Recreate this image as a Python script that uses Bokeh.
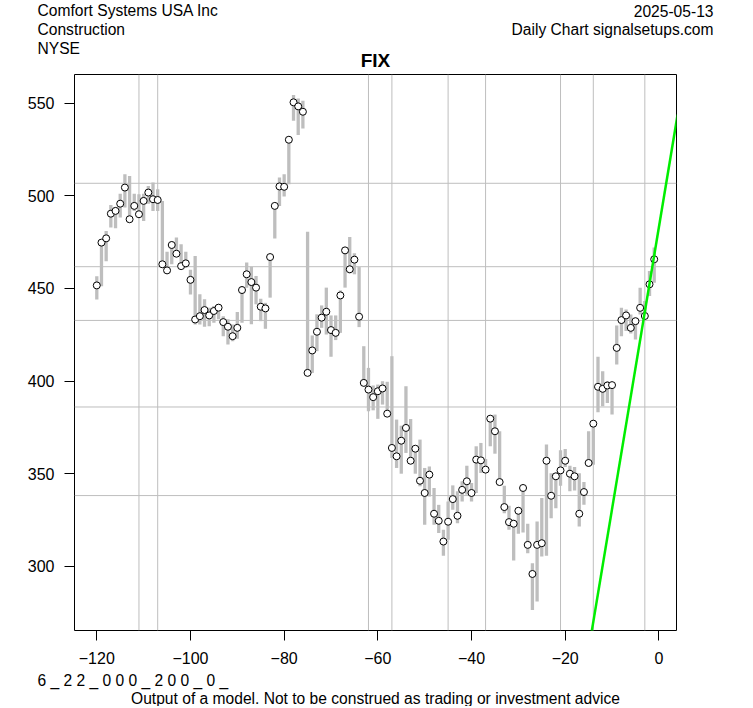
from bokeh.plotting import figure
from bokeh.models import Range1d, FixedTicker, Span
from bokeh.core.properties import value
from bokeh.embed import file_html
from bokeh.resources import INLINE

# ---- data ----
days = list(range(-120, 0))
close = [451.6, 474.7, 477.0, 490.3, 491.8, 495.7, 504.4, 487.3, 494.5, 490.0,
         497.2, 501.7, 498.1, 497.7, 463.0, 459.7, 473.4, 468.7, 462.0, 463.5,
         454.6, 433.2, 435.0, 438.3, 435.4, 437.8, 439.6, 431.8, 429.3, 424.2,
         428.7, 449.1, 457.6, 453.4, 450.4, 440.1, 439.2, 466.9, 494.5, 505.0,
         504.8, 530.2, 550.4, 548.2, 545.3, 404.4, 416.5, 426.6, 434.2, 437.4,
         427.5, 426.0, 446.2, 470.5, 460.3, 465.5, 434.7, 399.0, 395.4, 391.3,
         394.5, 396.0, 382.4, 363.9, 359.4, 367.8, 374.7, 357.0, 363.5, 346.2,
         339.6, 349.5, 328.4, 324.6, 313.4, 324.1, 336.3, 327.3, 341.3, 345.9,
         339.6, 357.6, 357.2, 352.2, 379.7, 372.9, 345.5, 332.0, 323.9, 323.0,
         330.0, 342.3, 311.6, 295.9, 311.6, 312.5, 357.0, 338.1, 348.6, 351.8,
         357.0, 350.0, 348.6, 328.4, 340.1, 355.8, 377.0, 396.9, 395.8, 397.6,
         397.8, 417.9, 432.9, 435.4, 428.7, 432.3, 439.5, 435.1, 452.2, 465.7]
high = [456.6, 475.9, 481.0, 495.0, 493.9, 501.1, 511.6, 510.7, 501.1, 500.8,
        501.1, 505.3, 507.1, 503.5, 497.2, 469.8, 475.6, 477.4, 473.8, 469.8,
        460.0, 467.5, 446.8, 444.1, 439.6, 440.5, 441.4, 435.0, 433.3, 430.5,
        437.2, 451.3, 463.9, 461.7, 456.7, 444.4, 442.2, 468.4, 495.4, 509.8,
        511.6, 530.6, 554.3, 552.5, 551.3, 480.5, 424.6, 436.0, 440.8, 450.4,
        435.4, 435.4, 448.9, 471.0, 477.7, 468.9, 461.5, 418.8, 407.1, 397.6,
        398.1, 399.9, 399.6, 413.4, 379.2, 375.9, 397.2, 379.5, 364.5, 368.4,
        353.1, 353.9, 342.3, 333.2, 319.7, 335.0, 343.7, 340.5, 345.9, 354.3,
        345.0, 364.8, 366.6, 357.9, 381.0, 381.9, 372.9, 343.5, 332.7, 325.1,
        332.0, 343.2, 323.0, 301.7, 324.2, 336.9, 365.7, 350.3, 350.3, 362.6,
        363.3, 354.3, 353.6, 350.3, 345.5, 372.9, 378.8, 413.1, 405.3, 399.9,
        398.7, 430.0, 439.5, 438.6, 435.9, 434.2, 450.4, 443.2, 459.4, 472.0]
low = [444.0, 451.2, 464.7, 482.8, 482.4, 488.2, 493.6, 486.4, 491.8, 488.2,
       486.4, 495.7, 491.8, 491.8, 461.1, 459.3, 463.0, 466.9, 461.1, 461.1,
       446.7, 430.5, 430.5, 429.3, 429.6, 431.5, 433.3, 424.2, 419.7, 421.5,
       422.8, 431.4, 450.4, 430.6, 441.4, 432.3, 428.2, 445.0, 476.9, 494.5,
       499.6, 506.2, 540.5, 532.7, 536.3, 404.0, 404.4, 416.1, 428.7, 425.1,
       413.1, 422.1, 426.0, 450.4, 458.1, 457.6, 429.1, 398.5, 383.7, 384.2,
       379.6, 387.3, 381.0, 358.5, 353.1, 350.0, 361.2, 356.7, 350.0, 343.2,
       322.4, 337.7, 322.4, 318.0, 305.7, 314.3, 330.5, 323.3, 335.0, 338.7,
       335.0, 339.6, 350.4, 350.4, 364.8, 360.8, 345.0, 328.7, 319.7, 303.2,
       317.6, 318.3, 307.1, 276.5, 281.0, 305.3, 305.7, 326.0, 331.4, 343.5,
       353.6, 340.5, 341.0, 321.5, 333.2, 353.6, 354.9, 383.2, 386.4, 388.2,
       381.9, 408.9, 424.2, 427.0, 425.7, 422.4, 435.9, 434.2, 445.9, 453.1]
vgrid_x = [-111, -107, -62, -57, -45, -37, -21, -14, -3]
hgrid_y = [506.7, 461.7, 432.7, 386.0, 338.2]
trend_x = [-15, 4]
trend_y = [254.9, 543.8]
x_ticks = [-120, -100, -80, -60, -40, -20, 0]
y_ticks = [300, 350, 400, 450, 500, 550]

header_left = ["Comfort Systems USA Inc", "Construction", "NYSE"]
header_right = ["2025-05-13", "Daily Chart signalsetups.com"]
chart_title = "FIX"
footer_code = "6 _ 2 2 _ 0 0 0 _ 2 0 0 _ 0 _"
footer_note = "Output of a model. Not to be construed as trading or investment advice"

FONT = "Liberation Sans"
GRAY = "#BEBEBE"
W = 745
OFF = 1          # page offset of the layout
HEAD_H = 74      # header strip: page rows 1..75
FOOT_H = 36      # footer strip


def strip(h):
    f = figure(width=W, height=h, x_range=Range1d(0, W), y_range=Range1d(h, 0),
               output_backend="svg", toolbar_location=None,
               x_axis_type=None, y_axis_type=None,
               min_border=0, min_border_left=0, min_border_right=0,
               min_border_top=0, min_border_bottom=0)
    f.outline_line_color = None
    f.xgrid.visible = False
    f.ygrid.visible = False
    f.background_fill_color = "white"
    f.border_fill_color = "white"
    return f


# ---- header ----
head = strip(HEAD_H)
head.text(x=[38 - OFF] * 3, y=[11.3 - OFF, 30.3 - OFF, 48.5 - OFF], text=header_left,
          text_font=value(FONT), text_font_size="15.6px", text_align="left",
          text_baseline="middle", text_color="black")
head.text(x=[714 - OFF] * 2, y=[11.3 - OFF, 30.3 - OFF], text=header_right,
          text_font=value(FONT), text_font_size="15.6px", text_align="right",
          text_baseline="middle", text_color="black")
head.text(x=[376 - OFF], y=[61 - OFF], text=[chart_title],
          text_font=value(FONT), text_font_size="19px", text_font_style="bold",
          text_align="center", text_baseline="middle", text_color="black")

# ---- main chart ----
top_page = OFF + HEAD_H            # 75
p = figure(frame_width=602, frame_height=556,
           x_range=Range1d(-124.76, 3.76), y_range=Range1d(265.4, 565.4),
           output_backend="svg", toolbar_location=None,
           min_border_left=75 - OFF, min_border_right=W - (75 - OFF) - 602,
           min_border_top=75 - top_page, min_border_bottom=40)
p.background_fill_color = "white"
p.border_fill_color = "white"
p.outline_line_color = "black"
p.outline_line_width = 1
p.outline_line_alpha = 1.0
p.xgrid.visible = False
p.ygrid.visible = False

for ax, ticks in ((p.xaxis[0], x_ticks), (p.yaxis[0], y_ticks)):
    ax.ticker = FixedTicker(ticks=ticks)
    ax.minor_tick_line_color = None
    ax.major_tick_in = 0
    ax.major_tick_out = 10
    ax.major_tick_line_color = "black"
    ax.axis_line_color = None
    ax.major_label_text_font = FONT
    ax.major_label_text_font_size = "16px"
    ax.major_label_text_color = "black"
p.xaxis[0].major_label_standoff = 11
p.yaxis[0].major_label_standoff = 10

for xv in vgrid_x:
    p.add_layout(Span(location=xv, dimension="height", line_color=GRAY,
                      line_width=1, level="underlay"))
for yv in hgrid_y:
    p.add_layout(Span(location=yv, dimension="width", line_color=GRAY,
                      line_width=1, level="underlay"))

p.segment(x0=days, y0=low, x1=days, y1=high, line_color=GRAY,
          line_width=3.3, line_cap="butt")
p.scatter(x=days, y=close, marker="circle", size=7, fill_color="white",
          line_color="black", line_width=1)
p.line(x=trend_x, y=trend_y, line_color="#00EE00", line_width=2.5)

# ---- footer ----
foot_top = 1 + HEAD_H + 596
foot = strip(FOOT_H)
foot.text(x=[38 - OFF], y=[680.5 - foot_top], text=[footer_code],
          text_font=value(FONT), text_font_size="15.6px", text_align="left",
          text_baseline="middle", text_color="black")
foot.text(x=[376 - OFF], y=[698.5 - foot_top], text=[footer_note],
          text_font=value(FONT), text_font_size="15.6px", text_align="center",
          text_baseline="middle", text_color="black")

# separate roots so that the plot frames are not aligned with each other
open("out.html", "w").write(file_html([head, p, foot], INLINE))
